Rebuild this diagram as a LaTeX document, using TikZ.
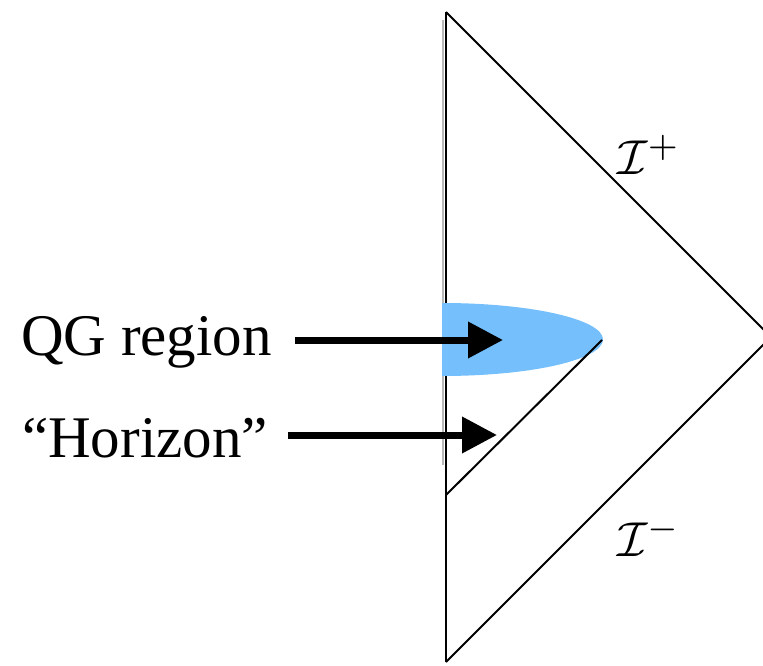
\documentclass[tikz,border=0pt]{standalone}
\usepackage{graphicx}
\usepackage{fontspec}
\setmainfont{Liberation Serif}
\usetikzlibrary{arrows.meta}
\definecolor{qgblue}{RGB}{116,191,252}
\tikzset{
  edge/.style={line width=2pt, line join=miter},
  pointer/.style={line width=7pt, -{Triangle[length=35pt,width=35pt]}},
  lbl/.style={inner sep=0pt, anchor=base west, font=\fontsize{59}{62}\selectfont},
  scri/.style={inner sep=0pt}
}
\begin{document}
\begin{tikzpicture}[x=1pt,y=-1pt]
\useasboundingbox (0,0) rectangle (763,666);
\clip (0,0) rectangle (763,666);
\coordinate (top) at (446,12);
\coordinate (bot) at (446,662);
\coordinate (right) at (771,337);
\coordinate (hl) at (446,495);
\coordinate (ht) at (602,340);
% shadow of the left edge
\draw[gray!55, line width=1.5pt] (443,20) -- (443,465);
\draw[edge] (bot) -- (right) -- (top);
\draw[line width=2.8pt] (top) -- (bot);
% QG region
\begin{scope}
  \clip (442,290) rectangle (700,390);
  \fill[qgblue] (442,339.5) ellipse [x radius=161, y radius=36.5];
\end{scope}
\draw[edge] (hl) -- (ht);
% labels
\node[scri] (ip) at (649,155) {\scalebox{4.9}{$\mathcal{I}^{+}$}};
\node[scri] (im) at (649,537) {\scalebox{4.9}{$\mathcal{I}^{-}$}};
\node[lbl] (qg) at (21,355) {QG region};
\node[lbl] (hz) at (22,457) {``Horizon''};
\coordinate (qgs) at (295,340);
\coordinate (qgt) at (503,340);
\coordinate (hzs) at (288,435);
\coordinate (hzt) at (497,435);
\draw[pointer] (qgs) -- (qgt);
\draw[pointer] (hzs) -- (hzt);
\end{tikzpicture}
\end{document}
